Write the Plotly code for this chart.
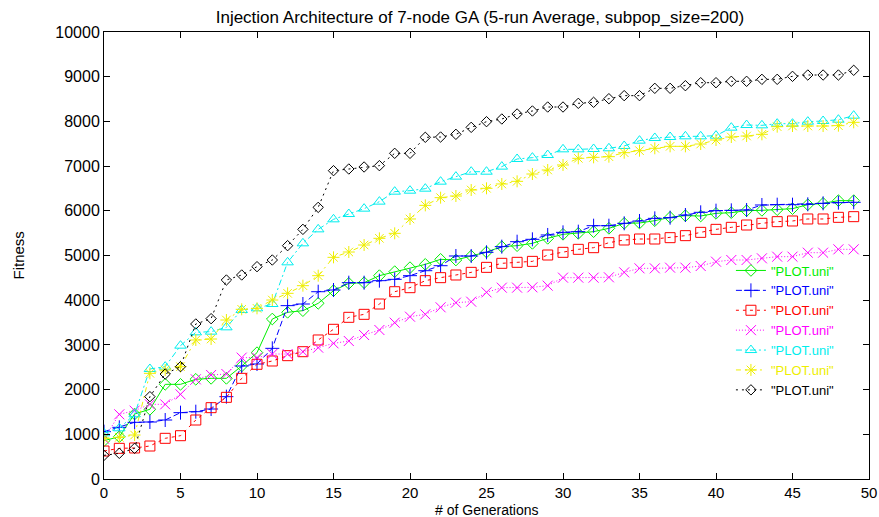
import plotly.graph_objects as go

generations = list(range(50))

green = [857, 947, 1454, 1559, 2118, 2118, 2230, 2252, 2252, 2528, 2826,
         3579, 3729, 3766, 3930, 4213, 4377, 4392, 4549, 4638, 4728, 4802, 4914, 4899, 4989, 5078, 5198, 5220, 5272,
         5384, 5474, 5496, 5533, 5608, 5720, 5727, 5779, 5854, 5891, 5884, 5943, 5958, 6003, 6010, 6025, 6048, 6137, 6167, 6227, 6227]
blue = [1059, 1156, 1268, 1275, 1320, 1484, 1506, 1566, 1842, 2528, 2573,
        2923, 3878, 3915, 4190, 4228, 4392, 4392, 4437, 4467, 4549, 4660, 4772, 4989, 4989, 5071, 5198, 5309, 5362,
        5459, 5518, 5533, 5667, 5667, 5720, 5772, 5831, 5846, 5906, 5966, 6003, 6010, 6018, 6130, 6137, 6137, 6145, 6167, 6182, 6190]
red = [626, 686, 694, 738, 910, 969, 1320, 1596, 1827, 2252, 2566,
       2640, 2759, 2848, 3110, 3349, 3617, 3684, 3915, 4190, 4280, 4437, 4504, 4564, 4623, 4735, 4825, 4847, 4869,
       5011, 5071, 5138, 5175, 5287, 5347, 5369, 5369, 5399, 5444, 5518, 5585, 5630, 5682, 5720, 5757, 5772, 5817, 5817, 5854, 5869]
magenta = [900, 1447, 1529, 1670, 1670, 1894, 2230, 2327, 2349, 2715, 2715,
           2796, 2796, 2848, 2938, 3035, 3087, 3221, 3333, 3497, 3631, 3684, 3841, 3945, 3967, 4176, 4280, 4280, 4288,
           4325, 4504, 4504, 4504, 4512, 4623, 4713, 4713, 4728, 4728, 4765, 4862, 4899, 4899, 4937, 4974, 4974, 5063, 5063, 5138, 5138]
cyan = [1022, 1134, 1447, 2461, 2513, 2983, 3281, 3296, 3393, 3781, 3818,
        3915, 4847, 5272, 5585, 5809, 5928, 6048, 6205, 6428, 6450, 6495, 6652, 6764, 6875, 6875, 6988, 7159, 7189,
        7248, 7375, 7375, 7383, 7398, 7450, 7569, 7629, 7651, 7666, 7666, 7681, 7860, 7919, 7912, 7949, 7949, 7994, 8009, 8038, 8128]
yellow = [910, 932, 984, 2364, 2438, 2513, 3110, 3132, 3557, 3796, 3818,
          4004, 4154, 4325, 4549, 4959, 5078, 5235, 5384, 5496, 5817, 6122, 6294, 6331, 6465, 6503, 6600, 6659, 6823,
          6913, 7025, 7174, 7196, 7211, 7300, 7345, 7398, 7442, 7442, 7494, 7584, 7651, 7673, 7711, 7882, 7897, 7897, 7897, 7905, 7979]
black = [529, 574, 686, 1842, 2349, 2513, 3468, 3587, 4452, 4564, 4750,
         4899, 5220, 5585, 6077, 6898, 6935, 6980, 7010, 7286, 7286, 7644, 7651, 7711, 7867, 7994, 8054, 8166,
         8233, 8322, 8322, 8404, 8427, 8508, 8576, 8576, 8740, 8740, 8799, 8866, 8866, 8897, 8897, 8941, 8941, 9008, 9038, 9038, 9038, 9143]

series_label = '"PLOT.uni"'
x_ticks = [0, 5, 10, 15, 20, 25, 30, 35, 40, 45, 50]
y_ticks = [0, 1000, 2000, 3000, 4000, 5000, 6000, 7000, 8000, 9000, 10000]
x_title = "# of Generations"
y_title = "Fitness"
chart_title = "Injection Architecture of 7-node GA (5-run Average, subpop_size=200)"

styles = [
    (green, "#00ee00", "solid", "diamond-open", 9),
    (blue, "#0000ff", "6px,3px", "cross-thin-open", 10),
    (red, "#ff0000", "3px,4px", "square-open", 10),
    (magenta, "#ff00ff", "1px,2px", "x-thin-open", 10),
    (cyan, "#00eeee", "6px,3px,2px,3px", "triangle-up-open", 10),
    (yellow, "#eeee00", "5px,4px,2px,4px", "asterisk-open", 10),
    (black, "#000000", "2px,4px", "diamond-open", 8),
]

FONT = "Liberation Sans, Arial, sans-serif"
fig = go.Figure()
for vals, col, dash, sym, sz in styles:
    fig.add_trace(go.Scatter(
        x=generations, y=vals, mode="lines+markers",
        name='<span style="color:%s">%s</span>' % (col, series_label),
        line=dict(color=col, width=1, dash=dash),
        marker=dict(symbol=sym, size=sz, color=col, line=dict(color=col, width=1)),
    ))

fig.update_layout(
    width=879, height=517,
    margin=dict(l=104, r=10, t=32, b=38, autoexpand=False),
    paper_bgcolor="white", plot_bgcolor="white",
    font=dict(family=FONT, size=16, color="black"),
    title=dict(text=chart_title, x=0.546, xanchor="center", y=0.967, yanchor="middle",
               font=dict(size=17, family=FONT)),
    legend=dict(x=0.962, xanchor="right", y=0.50, yanchor="top",
                bgcolor="rgba(0,0,0,0)", font=dict(size=13, family=FONT),
                tracegroupgap=0, itemwidth=30),
    showlegend=True,
    annotations=[
        dict(text=x_title, xref="paper", yref="paper", x=0.5, y=0, xanchor="center",
             yanchor="middle", yshift=-31, showarrow=False, font=dict(size=14, family=FONT)),
        dict(text=y_title, xref="paper", yref="paper", x=0, y=0.5, xanchor="center",
             yanchor="middle", xshift=-86, textangle=-90, showarrow=False, font=dict(size=15, family=FONT)),
    ],
)
fig.update_xaxes(range=[0, 50], tickvals=x_ticks, ticktext=[str(t) for t in x_ticks],
                 tickfont=dict(size=15), ticklabelstandoff=0,
                 showgrid=False, zeroline=False, showline=True, linecolor="black", linewidth=1,
                 mirror="ticks", ticks="inside", ticklen=6, tickcolor="black", automargin=False)
fig.update_yaxes(range=[0, 10000], tickvals=y_ticks, ticktext=[str(t) for t in y_ticks],
                 showgrid=False, zeroline=False, showline=True, linecolor="black", linewidth=1,
                 mirror="ticks", ticks="inside", ticklen=6, tickcolor="black", automargin=False)
fig.write_html("out.html")
